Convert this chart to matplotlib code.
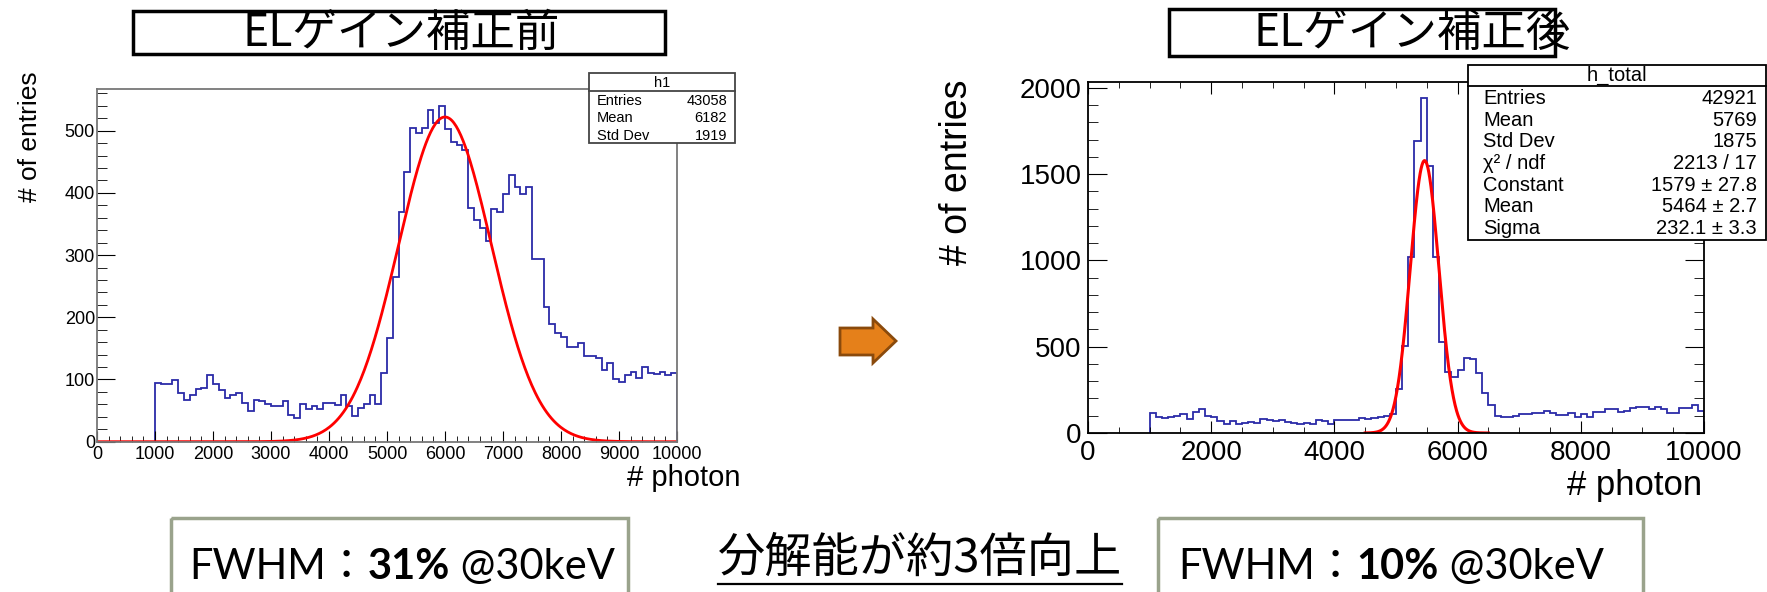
import numpy as np
import matplotlib.pyplot as plt
from matplotlib.patches import Rectangle, Polygon
from matplotlib.ticker import MultipleLocator

plt.rcParams['font.family'] = ['Liberation Sans', 'DejaVu Sans']
JP = ['Noto Sans CJK JP', 'DejaVu Sans']
LAT = ['Lato', 'Noto Sans CJK JP', 'DejaVu Sans']

W, H = 1767, 592

# ---- data (bin width 100, from 1000 to 10000) ----
bin_lo, bin_hi, bin_w = 1000, 10000, 100

counts_before = [
    95, 93, 93, 99, 79, 67, 75, 85, 87, 108,
    93, 83, 70, 75, 78, 62, 49, 67, 65, 60,
    57, 57, 65, 43, 38, 60, 53, 58, 53, 63,
    63, 59, 75, 58, 41, 54, 61, 75, 60, 111,
    166, 264, 369, 433, 504, 496, 504, 533, 513, 540,
    503, 481, 477, 469, 375, 356, 344, 322, 374, 370,
    399, 429, 410, 399, 410, 294, 294, 216, 190, 174,
    169, 152, 152, 159, 138, 138, 135, 116, 127, 100,
    96, 107, 112, 102, 120, 111, 109, 112, 107, 111,
]
counts_after = [
    114, 95, 89, 95, 97, 108, 83, 124, 141, 97,
    95, 71, 54, 71, 52, 60, 64, 60, 83, 73,
    67, 73, 64, 60, 54, 60, 54, 75, 69, 52,
    75, 75, 75, 75, 89, 83, 85, 95, 100, 110,
    253, 506, 1022, 1690, 1940, 1550, 1022, 525, 356, 322,
    367, 433, 428, 346, 230, 162, 99, 95, 95, 99,
    110, 113, 117, 118, 125, 117, 104, 104, 117, 91,
    113, 95, 122, 122, 137, 137, 122, 130, 143, 150,
    150, 137, 150, 137, 117, 117, 143, 143, 162, 128,
]

# gaussian fits: constant, mean, sigma, range
fit_before = [522, 6000, 800]
fit_before_range = [0, 10000]
fit_after = [1579, 5464, 232.1]
fit_after_range = [4500, 6500]

stats_before_title = 'h1'
stats_before_names = ['Entries', 'Mean', 'Std Dev']
stats_before_vals = ['43058', '6182', '1919']

stats_after_title = 'h_total'
stats_after_names = ['Entries', 'Mean', 'Std Dev', 'χ² / ndf', 'Constant', 'Mean', 'Sigma']
stats_after_vals = ['42921', '5769', '1875', '2213 / 17', '1579 ± 27.8', '5464 ± 2.7', '232.1 ± 3.3']

title_before = 'ELゲイン補正前'
title_after = 'ELゲイン補正後'
res_before = '31%'
res_after = '10%'
middle_text = '分解能が約3倍向上'

HIST_COLOR = '#2b2ba8'


def gauss(x, p):
    return p[0] * np.exp(-0.5 * ((x - p[1]) / p[2]) ** 2)


def add_ax(x0, x1, ytop, ybot):
    return fig.add_axes([x0 / W, 1 - ybot / H, (x1 - x0) / W, (ybot - ytop) / H])


fig = plt.figure(figsize=(W / 100, H / 100), dpi=100)
edges = np.arange(bin_lo, bin_hi + bin_w, bin_w)

# ---- left histogram ----
ax1 = add_ax(97, 677, 89, 441.7)
ax1.stairs(counts_before, edges, baseline=0, color=HIST_COLOR, lw=1.3)
xf = np.linspace(fit_before_range[0], fit_before_range[1], 500)
ax1.plot(xf, gauss(xf, fit_before), color='red', lw=2)
ax1.set_xlim(0, 10000)
ax1.set_ylim(0, 567)
ax1.xaxis.set_major_locator(MultipleLocator(1000))
ax1.xaxis.set_minor_locator(MultipleLocator(200))
ax1.yaxis.set_major_locator(MultipleLocator(100))
ax1.yaxis.set_minor_locator(MultipleLocator(20))
ax1.tick_params(which='both', direction='in', top=False, right=False, labelsize=13)
ax1.tick_params(axis='y', which='major', length=13, pad=1.5)
ax1.tick_params(axis='y', which='minor', length=7)
ax1.tick_params(axis='x', which='major', length=8, pad=3)
ax1.tick_params(axis='x', which='minor', length=4)
for s in ax1.spines.values():
    s.set_color('#777777')
    s.set_linewidth(1.3)

# ---- right histogram ----
ax2 = add_ax(1088, 1704, 82.3, 433)
ax2.stairs(counts_after, edges, baseline=0, color=HIST_COLOR, lw=1.3)
xf = np.linspace(fit_after_range[0], fit_after_range[1], 400)
ax2.plot(xf, gauss(xf, fit_after), color='red', lw=2.2)
ax2.set_xlim(0, 10000)
ax2.set_ylim(0, 2033)
ax2.xaxis.set_major_locator(MultipleLocator(2000))
ax2.xaxis.set_minor_locator(MultipleLocator(500))
ax2.yaxis.set_major_locator(MultipleLocator(500))
ax2.yaxis.set_minor_locator(MultipleLocator(100))
ax2.tick_params(which='both', direction='in', top=True, right=True, labelsize=20)
ax2.tick_params(axis='y', which='major', length=14, pad=4.5)
ax2.tick_params(axis='y', which='minor', length=7)
ax2.tick_params(axis='x', which='major', length=8.5, pad=5)
ax2.tick_params(axis='x', which='minor', length=4.3)
for s in ax2.spines.values():
    s.set_linewidth(1.3)

# ---- overlay in reference pixel coordinates ----
bg = fig.add_axes([0, 0, 1, 1], zorder=5)
bg.set_xlim(0, W)
bg.set_ylim(H, 0)
bg.set_axis_off()

# axis titles
bg.text(30, 137, '# of entries', rotation=90, ha='center', va='center', fontsize=19)
bg.text(740, 478, '# photon', ha='right', va='center', fontsize=21)
bg.text(957, 172, '# of entries', rotation=90, ha='center', va='center', fontsize=27)
bg.text(1702, 485, '# photon', ha='right', va='center', fontsize=25)

# stats boxes
bg.add_patch(Rectangle((589, 73), 146, 70, fc='white', ec='#444444', lw=1.3, zorder=3))
bg.plot([589, 735], [90.7, 90.7], color='#444444', lw=1.3, zorder=4)
bg.text(662, 83, stats_before_title, ha='center', va='center', fontsize=10.5, zorder=4)
for i, (n, v) in enumerate(zip(stats_before_names, stats_before_vals)):
    yy = 100.7 + i * 17.7
    bg.text(597, yy, n, ha='left', va='center', fontsize=10.5, zorder=4)
    bg.text(727, yy, v, ha='right', va='center', fontsize=10.5, zorder=4)

bg.add_patch(Rectangle((1468, 65), 298, 175, fc='white', ec='black', lw=1.3, zorder=3))
bg.plot([1468, 1766], [85.7, 85.7], color='black', lw=1.3, zorder=4)
bg.text(1617, 75.5, stats_after_title, ha='center', va='center', fontsize=14.5, zorder=4)
for i, (n, v) in enumerate(zip(stats_after_names, stats_after_vals)):
    yy = 98.3 + i * 21.7
    bg.text(1483, yy, n, ha='left', va='center', fontsize=14.5, zorder=4)
    bg.text(1757, yy, v, ha='right', va='center', fontsize=14.5, zorder=4)

# title boxes
bg.add_patch(Rectangle((133, 11), 532, 43, fc='white', ec='black', lw=2.5))
bg.text(242, 33, title_before, ha='left', va='center', family=JP, fontsize=32)
bg.add_patch(Rectangle((1169, 9), 386, 47, fc='white', ec='black', lw=2.5))
bg.text(1253, 33, title_after, ha='left', va='center', family=JP, fontsize=32)

# arrow
arrow = [(840, 328), (873, 328), (873, 319), (896, 341), (873, 363), (873, 355), (840, 355)]
bg.add_patch(Polygon(arrow, closed=True, fc='#E5801A', ec='#8a4a0c', lw=2))

# bottom boxes
bg.add_patch(Rectangle((171, 518), 457, 90, fc='none', ec='#9aa38c', lw=2.5))
bg.add_patch(Rectangle((1158, 518), 485, 90, fc='none', ec='#9aa38c', lw=2.5))


def fwhm_line(x, y, value):
    t1 = bg.text(x, y, 'FWHM：', ha='left', va='bottom', family=LAT, fontsize=30)
    t2 = bg.annotate(value, xy=(1, 0), xycoords=t1, ha='left', va='bottom',
                     family=LAT, fontsize=30, fontweight='bold')
    bg.annotate(' @30keV', xy=(1, 0), xycoords=t2, ha='left', va='bottom',
                family=LAT, fontsize=30)


fwhm_line(189, 586, res_before)
fwhm_line(1178, 586, res_after)

mid = bg.text(718, 559, middle_text, ha='left', va='center', family=JP, fontsize=34)
fig.canvas.draw()
bb = mid.get_window_extent().transformed(bg.transData.inverted())
bg.plot([bb.x0, bb.x1], [584, 584], color='black', lw=1.6)

fig.savefig('out.png', dpi=100)
